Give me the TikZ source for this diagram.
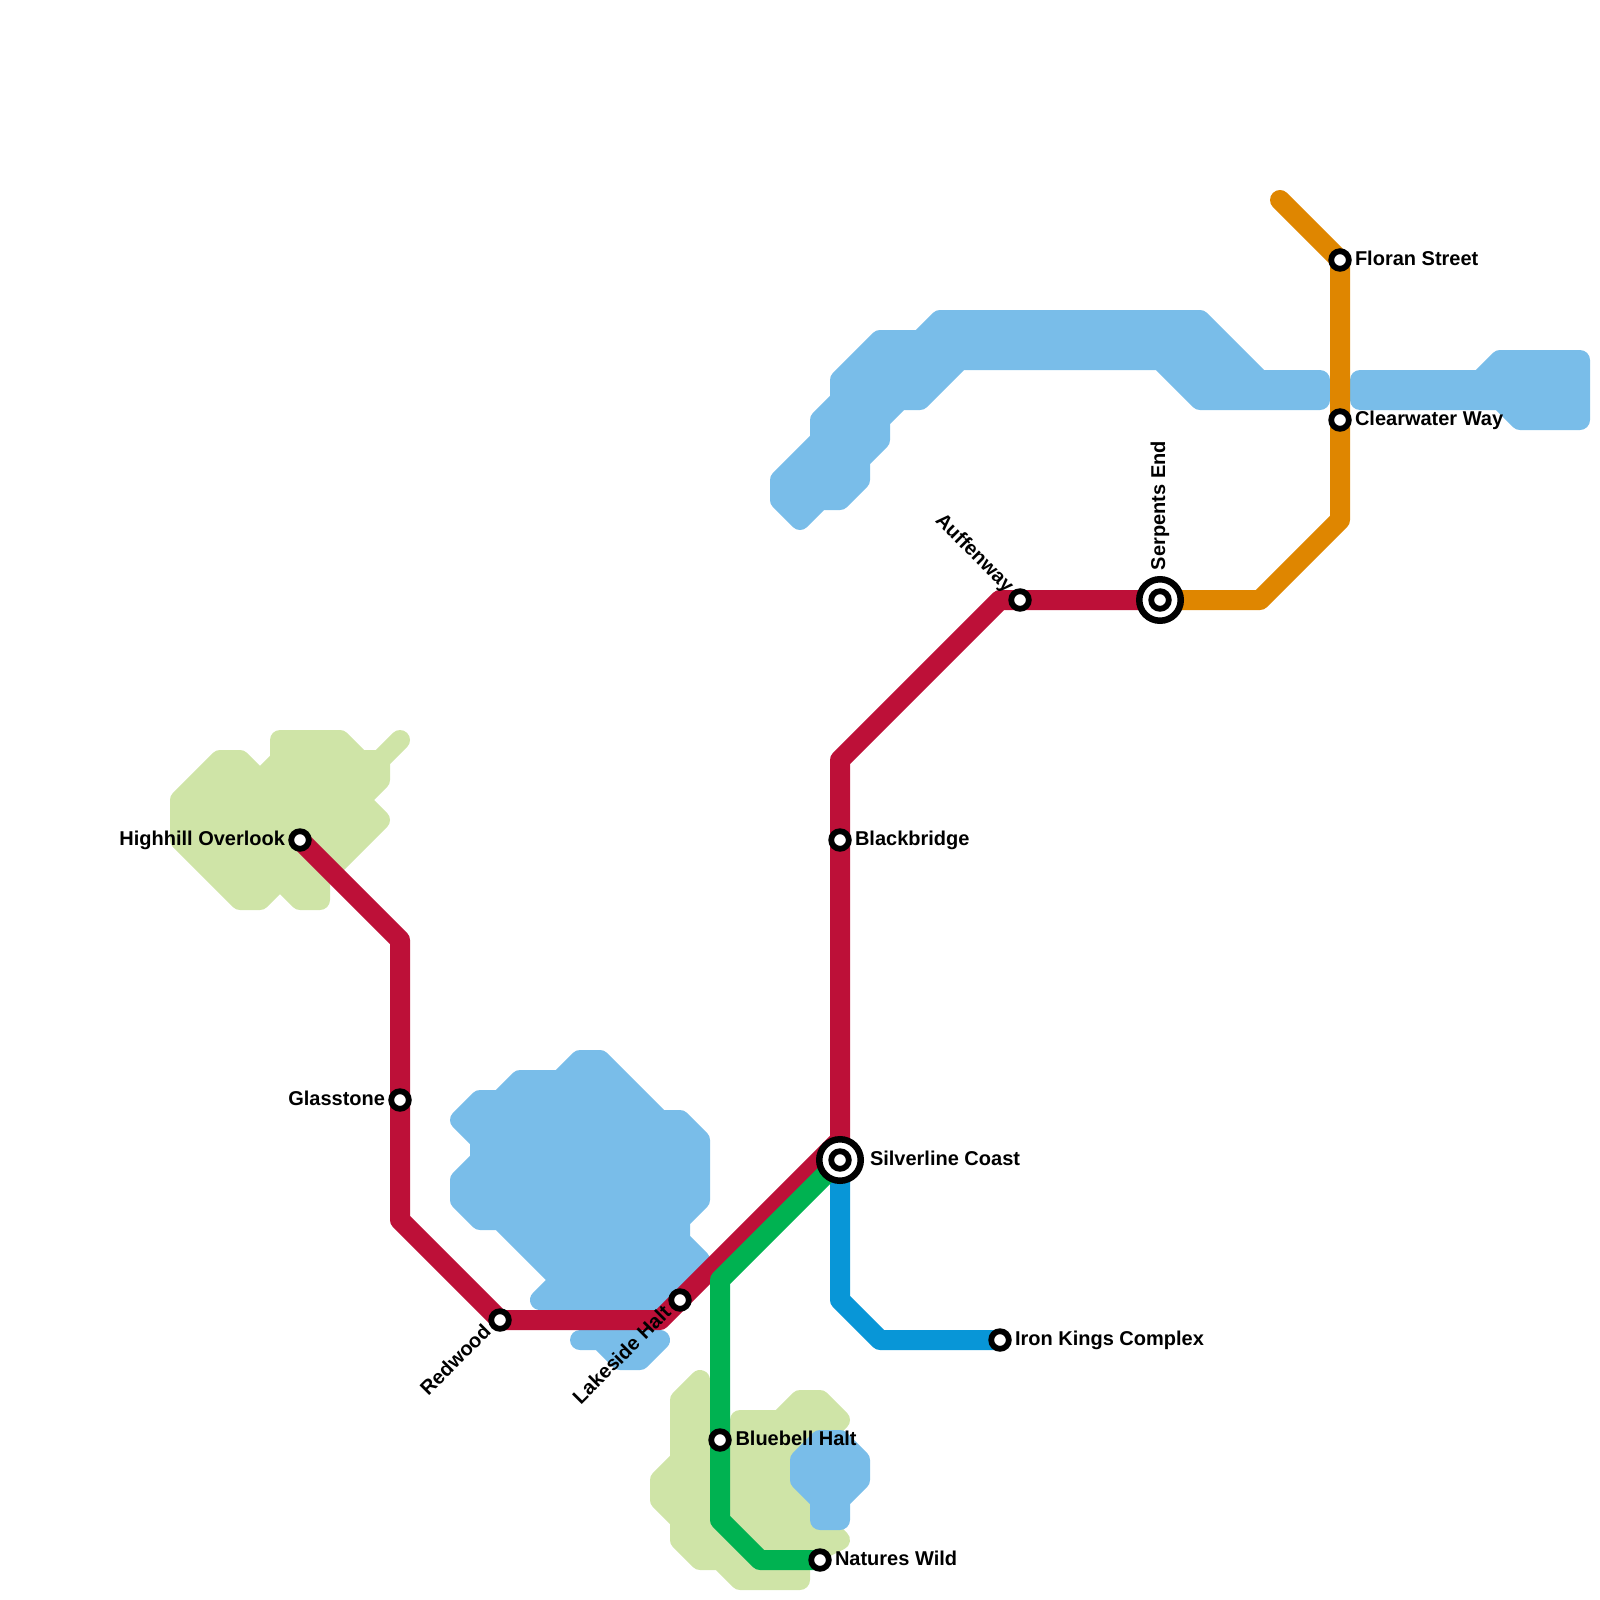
\documentclass[tikz,border=0pt]{standalone}
\usepackage{fontspec}
\setmainfont{Liberation Sans}
\usetikzlibrary{backgrounds}
\definecolor{waterc}{HTML}{79BDE9}
\definecolor{parkc}{HTML}{CFE4A7}
\definecolor{redc}{HTML}{BD1038}
\definecolor{orangec}{HTML}{DF8600}
\definecolor{greenc}{HTML}{00B251}
\definecolor{bluec}{HTML}{0896D7}
\tikzset{
  stn/.style={circle,draw=black,fill=white,line width=5.8pt,minimum size=17.6pt,inner sep=0pt,outer sep=0pt},
  hub/.style={circle,draw=black,fill=white,line width=6.5pt,minimum size=41.5pt,inner sep=0pt,outer sep=0pt},
  lbl/.style={inner sep=0pt,outer sep=0pt,font=\fontsize{20}{24}\selectfont\bfseries,text=black},
  water/.style={fill=waterc,draw=waterc,line width=20pt,line join=round,line cap=round},
  park/.style={fill=parkc,draw=parkc,line width=20pt,line join=round,line cap=round},
  route/.style={line width=20pt,line join=round,line cap=round}
}
\begin{document}
\begin{tikzpicture}[x=1pt,y=-1pt]
\useasboundingbox (0,0) rectangle (1600,1600);
% hubs and stations
\node[hub] (silverO) at (840,1160) {};
\node[stn] (silver) at (840,1160) {};
\node[hub] (serpO) at (1160,600) {};
\node[stn] (serp) at (1160,600) {};
\node[stn] (high) at (300,840) {};
\node[stn] (glass) at (400,1100) {};
\node[stn] (red) at (500,1320) {};
\node[stn] (lake) at (680,1300) {};
\node[stn] (black) at (840,840) {};
\node[stn] (auff) at (1020,600) {};
\node[stn] (floran) at (1340,260) {};
\node[stn] (clear) at (1340,420) {};
\node[stn] (iron) at (1000,1340) {};
\node[stn] (blue) at (720,1440) {};
\node[stn] (nat) at (820,1560) {};
% labels
\node[lbl,anchor=base east] (tHigh) at (285,845) {Highhill Overlook};
\node[lbl,anchor=base east] (tGlass) at (385,1105) {Glasstone};
\node[lbl,anchor=base west] (tBlack) at (855,845) {Blackbridge};
\node[lbl,anchor=base west] (tSilver) at (870,1165) {Silverline Coast};
\node[lbl,anchor=base west] (tIron) at (1015,1345) {Iron Kings Complex};
\node[lbl,anchor=base west] (tBlue) at (735.5,1445) {Bluebell Halt};
\node[lbl,anchor=base west] (tNat) at (835,1565) {Natures Wild};
\node[lbl,anchor=base west] (tFloran) at (1355,265) {Floran Street};
\node[lbl,anchor=base west] (tClear) at (1355,425) {Clearwater Way};
\node[lbl,anchor=base west,rotate=90] (tSerp) at (1165,570) {Serpents End};
\node[lbl,anchor=base east,rotate=-45] (tAuff) at (1006,593) {Auffenway};
\node[lbl,anchor=base east,rotate=45] (tRed) at (492,1333) {Redwood};
\node[lbl,anchor=base east,rotate=45] (tLake) at (672,1314) {Lakeside Halt};
% bend points
\coordinate (r1) at (400,940);
\coordinate (r2) at (400,1220);
\coordinate (r3) at (660,1320);
\coordinate (r4) at (840,1140);
\coordinate (r5) at (840,760);
\coordinate (r6) at (1000,600);
\coordinate (o1) at (1260,600);
\coordinate (o2) at (1340,520);
\coordinate (o3) at (1280,200);
\coordinate (g1) at (720,1280);
\coordinate (g2) at (720,1520);
\coordinate (g3) at (760,1560);
\coordinate (b1) at (840,1300);
\coordinate (b2) at (880,1340);
\begin{scope}[on background layer]
% parks
\draw[park] (280,740)--(340,740)--(360,760)--(380,760)--(400,740)--(380,760)--(380,780)--(360,800)--(380,820)--(320,880)--(320,900)--(300,900)--(280,880)--(260,900)--(240,900)--(180,840)--(180,800)--(220,760)--(240,760)--(260,780)--(280,760)--cycle;
\draw[park] (700,1380)--(680,1400)--(680,1460)--(660,1480)--(660,1500)--(680,1520)--(680,1540)--(700,1560)--(720,1560)--(740,1580)--(800,1580)--(800,1560)--(840,1540)--(820,1520)--(820,1440)--(840,1420)--(820,1400)--(800,1400)--(780,1420)--(740,1420)--(740,1440)--(700,1420)--cycle;
% water
\draw[water] (580,1060)--(600,1060)--(660,1120)--(680,1120)--(700,1140)--(700,1200)--(680,1220)--(680,1240)--(700,1260)--(660,1300)--(540,1300)--(560,1280)--(500,1220)--(480,1220)--(460,1200)--(460,1180)--(480,1160)--(480,1140)--(460,1120)--(480,1100)--(500,1100)--(520,1080)--(560,1080)--cycle;
\draw[water] (580,1340)--(660,1340)--(640,1360)--(620,1360)--(600,1340)--cycle;
\draw[water] (820,1440)--(840,1440)--(860,1460)--(860,1480)--(840,1500)--(840,1520)--(820,1520)--(820,1500)--(800,1480)--(800,1460)--cycle;
\draw[water] (800,520)--(780,500)--(780,480)--(820,440)--(820,420)--(840,400)--(840,380)--(880,340)--(920,340)--(940,320)--(1200,320)--(1260,380)--(1320,380)--(1320,400)--(1200,400)--(1160,360)--(960,360)--(920,400)--(900,400)--(880,420)--(880,440)--(860,460)--(860,480)--(840,500)--(820,500)--cycle;
\draw[water] (1360,380)--(1480,380)--(1500,360)--(1580,360)--(1580,420)--(1520,420)--(1500,400)--(1360,400)--cycle;
% routes
\draw[route,orangec] (serp.center)--(o1)--(o2)--(clear.center)--(floran.center)--(o3);
\draw[route,bluec] (silver.center)--(b1)--(b2)--(iron.center);
\draw[route,redc] (high.center)--(r1)--(glass.center)--(r2)--(red.center)--(r3)--(lake.center)--(r4)--(black.center)--(r5)--(r6)--(auff.center)--(serp.center);
\draw[route,greenc] (silver.center)--(g1)--(blue.center)--(g2)--(g3)--(nat.center);
\end{scope}
\end{tikzpicture}
\end{document}
